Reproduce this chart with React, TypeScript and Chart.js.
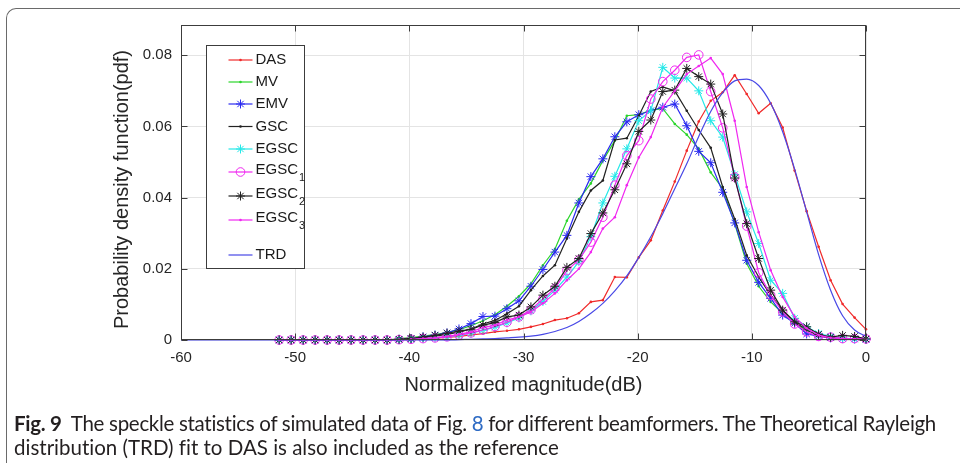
import React, { useEffect, useRef } from 'react';
import { Chart, registerables } from 'chart.js';

Chart.register(...registerables);

// ---------- data ----------
const dBBins = [
  -51.4, -50.35, -49.3, -48.25, -47.2, -46.15, -45.1, -44.05, -43.0, -41.95,
  -40.9, -39.85, -38.8, -37.75, -36.7, -35.65, -34.6, -33.55, -32.5, -31.45,
  -30.4, -29.35, -28.3, -27.25, -26.2, -25.15, -24.1, -23.05, -22.0, -20.95,
  -19.9, -18.85, -17.8, -16.75, -15.7, -14.65, -13.6, -12.55, -11.5, -10.45,
  -9.4, -8.35, -7.3, -6.25, -5.2, -4.15, -3.1, -2.05, -1.0, 0.0,
];

const DAS = [
  0, 0, 0, 0, 0, 0, 0, 0, 0, 0,
  0.0001, 0.0002, 0.0003, 0.0005, 0.0007, 0.0010, 0.0014, 0.0018, 0.0023, 0.0026,
  0.0030, 0.0037, 0.0045, 0.0056, 0.0061, 0.0075, 0.0107, 0.0112, 0.0177, 0.0176,
  0.0232, 0.0280, 0.0364, 0.0445, 0.0532, 0.0614, 0.0672, 0.0696, 0.0744, 0.0691,
  0.0637, 0.0665, 0.0597, 0.0476, 0.0362, 0.0262, 0.0168, 0.0101, 0.0063, 0.0030,
];

const MV = [
  0, 0, 0, 0, 0, 0, 0, 0, 0, 0,
  0.0004, 0.0007, 0.0011, 0.0015, 0.0021, 0.0029, 0.0040, 0.0054, 0.0071, 0.0095,
  0.0123, 0.0158, 0.0210, 0.0255, 0.0335, 0.0395, 0.0440, 0.0504, 0.0560, 0.0630,
  0.0633, 0.0646, 0.0650, 0.0607, 0.0577, 0.0537, 0.0471, 0.0425, 0.0327, 0.0215,
  0.0151, 0.0107, 0.0075, 0.0047, 0.0027, 0.0014, 0.0008, 0.0004, 0.0003, 0.0002,
];

const EMV = [
  0, 0, 0, 0, 0, 0, 0, 0, 0, 0,
  0.0002, 0.0004, 0.0009, 0.0014, 0.0020, 0.0031, 0.0046, 0.0066, 0.0067, 0.0088,
  0.0110, 0.0151, 0.0198, 0.0247, 0.0294, 0.0385, 0.0459, 0.0509, 0.0571, 0.0613,
  0.0633, 0.0644, 0.0654, 0.0663, 0.0602, 0.0530, 0.0498, 0.0415, 0.0329, 0.0224,
  0.0162, 0.0117, 0.0070, 0.0047, 0.0017, 0.0011, 0.0006, 0.0004, 0.0003, 0.0002,
];

const GSC = [
  0, 0, 0, 0, 0, 0, 0, 0, 0, 0,
  0.0002, 0.0004, 0.0007, 0.0011, 0.0016, 0.0022, 0.0031, 0.0045, 0.0055, 0.0074,
  0.0095, 0.0140, 0.0180, 0.0210, 0.0285, 0.0360, 0.0420, 0.0448, 0.0562, 0.0567,
  0.0630, 0.0698, 0.0711, 0.0700, 0.0644, 0.0590, 0.0540, 0.0430, 0.0340, 0.0238,
  0.0177, 0.0126, 0.0084, 0.0051, 0.0028, 0.0012, 0.0006, 0.0004, 0.0003, 0.0002,
];

const EGSC = [
  0, 0, 0, 0, 0, 0, 0, 0, 0, 0,
  0.0001, 0.0002, 0.0004, 0.0006, 0.0009, 0.0013, 0.0019, 0.0027, 0.0036, 0.0048,
  0.0062, 0.0082, 0.0108, 0.0140, 0.0177, 0.0220, 0.0290, 0.0385, 0.0460, 0.0537,
  0.0616, 0.0644, 0.0766, 0.0736, 0.0736, 0.0700, 0.0616, 0.0570, 0.0465, 0.0360,
  0.0271, 0.0168, 0.0131, 0.0061, 0.0037, 0.0018, 0.0010, 0.0005, 0.0003, 0.0002,
];

const EGSC1 = [
  0, 0, 0, 0, 0, 0, 0, 0, 0, 0,
  0.0001, 0.0002, 0.0004, 0.0006, 0.0009, 0.0014, 0.0020, 0.0028, 0.0038, 0.0050,
  0.0065, 0.0085, 0.0115, 0.0145, 0.0195, 0.0225, 0.0275, 0.0345, 0.0435, 0.0518,
  0.0560, 0.0677, 0.0726, 0.0758, 0.0794, 0.0801, 0.0698, 0.0596, 0.0458, 0.0320,
  0.0189, 0.0126, 0.0079, 0.0045, 0.0023, 0.0010, 0.0008, 0.0004, 0.0004, 0.0003,
];

const EGSC2 = [
  0, 0, 0, 0, 0, 0, 0, 0, 0, 0,
  0.0002, 0.0004, 0.0008, 0.0013, 0.0019, 0.0025, 0.0030, 0.0042, 0.0049, 0.0065,
  0.0070, 0.0093, 0.0126, 0.0151, 0.0204, 0.0229, 0.0299, 0.0357, 0.0422, 0.0495,
  0.0586, 0.0618, 0.0698, 0.0702, 0.0763, 0.0740, 0.0719, 0.0635, 0.0455, 0.0327,
  0.0229, 0.0140, 0.0084, 0.0051, 0.0037, 0.0016, 0.0008, 0.0013, 0.0010, 0.0003,
];

const EGSC3 = [
  0, 0, 0, 0, 0, 0, 0, 0, 0, 0,
  0.0001, 0.0002, 0.0004, 0.0006, 0.0010, 0.0016, 0.0023, 0.0035, 0.0042, 0.0056,
  0.0065, 0.0079, 0.0103, 0.0131, 0.0168, 0.0200, 0.0247, 0.0313, 0.0345, 0.0435,
  0.0513, 0.0570, 0.0654, 0.0700, 0.0747, 0.0770, 0.0792, 0.0747, 0.0616, 0.0430,
  0.0303, 0.0196, 0.0121, 0.0065, 0.0033, 0.0014, 0.0006, 0.0004, 0.0003, 0.0002,
];

// theoretical Rayleigh curve: starts at -60 dB, then the same bins
const trdDb = [-60, ...dBBins];
const TRD = [
  0,
  0, 0, 0, 0, 0, 0, 0, 0, 0, 0,
  0, 0, 0, 0, 0, 0.0001, 0.0002, 0.0003, 0.0004, 0.0006,
  0.0008, 0.0011, 0.0016, 0.0024, 0.0035, 0.0052, 0.0075, 0.0103, 0.0138, 0.0180,
  0.0232, 0.0290, 0.0355, 0.0425, 0.0495, 0.0572, 0.0642, 0.0695, 0.0728, 0.0733,
  0.0715, 0.0665, 0.0585, 0.0480, 0.0360, 0.0240, 0.0140, 0.0068, 0.0028, 0.0010,
];

const xTicks = [-60, -50, -40, -30, -20, -10, 0];
const xTickLabels = ['-60', '-50', '-40', '-30', '-20', '-10', '0'];
const yTicks = [0, 0.02, 0.04, 0.06, 0.08];
const yTickLabels = ['0', '0.02', '0.04', '0.06', '0.08'];

const seriesNames = ['DAS', 'MV', 'EMV', 'GSC', 'EGSC', 'EGSC', 'EGSC', 'EGSC', 'TRD'];
const seriesSubs = ['', '', '', '', '', '1', '2', '3', ''];

const xTitle = 'Normalized magnitude(dB)';
const yTitle = 'Probability density function(pdf)';

// ---------- styles ----------
const FONT = '"Liberation Sans", Arial, Helvetica, sans-serif';
type Sty = { color: string; point: string | false; r: number; hollow: boolean };
const styles: Sty[] = [
  { color: '#f02a2a', point: 'circle', r: 1.3, hollow: false },
  { color: '#2ad52a', point: 'circle', r: 1.3, hollow: false },
  { color: '#2a2af0', point: 'star', r: 4.5, hollow: true },
  { color: '#222222', point: 'circle', r: 1.3, hollow: false },
  { color: '#25e8e8', point: 'star', r: 4.5, hollow: true },
  { color: '#f028f0', point: 'circle', r: 4.3, hollow: true },
  { color: '#222222', point: 'star', r: 4.5, hollow: true },
  { color: '#f028f0', point: 'circle', r: 1.3, hollow: false },
  { color: '#4848e6', point: false, r: 0, hollow: false },
];

const seriesValues = [DAS, MV, EMV, GSC, EGSC, EGSC1, EGSC2, EGSC3, TRD];

function drawMarker(ctx: CanvasRenderingContext2D, s: Sty, x: number, y: number) {
  if (!s.point) return;
  ctx.save();
  ctx.strokeStyle = s.color;
  ctx.fillStyle = s.color;
  ctx.lineWidth = 1;
  if (s.point === 'star') {
    const r = s.r;
    ctx.beginPath();
    ctx.moveTo(x - r, y); ctx.lineTo(x + r, y);
    ctx.moveTo(x, y - r); ctx.lineTo(x, y + r);
    const d = r * Math.SQRT1_2;
    ctx.moveTo(x - d, y - d); ctx.lineTo(x + d, y + d);
    ctx.moveTo(x - d, y + d); ctx.lineTo(x + d, y - d);
    ctx.stroke();
  } else {
    ctx.beginPath();
    ctx.arc(x, y, s.r, 0, Math.PI * 2);
    if (s.hollow) ctx.stroke(); else ctx.fill();
  }
  ctx.restore();
}

const framePlugin = {
  id: 'matlabFrame',
  afterDatasetsDraw(chart: any) {
    const { ctx, chartArea: a, scales } = chart;
    ctx.save();
    ctx.strokeStyle = '#3c3c3c';
    ctx.lineWidth = 1;
    const L = Math.round(a.left) + 0.5, R = Math.round(a.right) - 0.5;
    const T = Math.round(a.top) + 0.5, B = Math.round(a.bottom) - 0.5;
    ctx.strokeRect(L, T, R - L, B - T);
    const tl = 6;
    ctx.beginPath();
    xTicks.forEach((v) => {
      const x = Math.round(scales.x.getPixelForValue(v)) + 0.5;
      ctx.moveTo(x, B); ctx.lineTo(x, B - tl);
      ctx.moveTo(x, T); ctx.lineTo(x, T + tl);
    });
    yTicks.forEach((v) => {
      const y = Math.round(scales.y.getPixelForValue(v)) + 0.5;
      ctx.moveTo(L, y); ctx.lineTo(L + tl, y);
      ctx.moveTo(R, y); ctx.lineTo(R - tl, y);
    });
    ctx.stroke();

    // y-axis title (rotated), centred slightly below the axis middle as in the source figure
    ctx.fillStyle = '#262626';
    ctx.font = `20px ${FONT}`;
    ctx.textAlign = 'center';
    ctx.textBaseline = 'middle';
    ctx.translate(a.left - 59, (a.top + a.bottom) / 2 + 7);
    ctx.rotate(-Math.PI / 2);
    ctx.fillText(yTitle, 0, 0);
    ctx.restore();
  },
};

const legendRowsY = [60, 82, 104, 126.5, 149, 172, 196, 220, 255];

const legendPlugin = {
  id: 'boxLegend',
  afterDraw(chart: any) {
    const { ctx, chartArea: a } = chart;
    const bx = Math.round(a.left) + 25.5;
    const by = 45.5;
    const bw = 98;
    const bh = 223;
    ctx.save();
    ctx.fillStyle = '#ffffff';
    ctx.fillRect(bx, by, bw, bh);
    ctx.strokeStyle = '#3c3c3c';
    ctx.lineWidth = 1;
    ctx.strokeRect(bx, by, bw, bh);
    seriesNames.forEach((name, k) => {
      const s = styles[k];
      const y = legendRowsY[k];
      const x0 = bx + 22, x1 = bx + 46;
      ctx.strokeStyle = s.color;
      ctx.lineWidth = 1.2;
      ctx.beginPath();
      ctx.moveTo(x0, y); ctx.lineTo(x1, y);
      ctx.stroke();
      drawMarker(ctx, s, (x0 + x1) / 2, y);
      ctx.fillStyle = '#1a1a1a';
      ctx.textBaseline = 'middle';
      ctx.textAlign = 'left';
      ctx.font = `15px ${FONT}`;
      const sub = seriesSubs[k];
      const ty = sub ? y - 2 : y;
      ctx.fillText(name, x1 + 3, ty);
      if (sub) {
        const w = ctx.measureText(name).width;
        ctx.font = `11px ${FONT}`;
        ctx.fillText(sub, x1 + 3 + w + 1, ty + 8);
      }
    });
    ctx.restore();
  },
};

export default function App() {
  const ref = useRef<HTMLCanvasElement | null>(null);

  useEffect(() => {
    if (!ref.current) return;
    const datasets = seriesValues.map((vals, k) => {
      const s = styles[k];
      const xs = k === 8 ? trdDb : dBBins;
      return {
        label: seriesNames[k] + seriesSubs[k],
        data: vals.map((v, i) => ({ x: xs[i], y: v })),
        borderColor: s.color,
        backgroundColor: s.color,
        borderWidth: 1.2,
        pointStyle: s.point === false ? 'circle' : (s.point as any),
        pointRadius: s.r,
        pointHoverRadius: s.r,
        pointBorderColor: s.color,
        pointBackgroundColor: s.hollow ? 'rgba(0,0,0,0)' : s.color,
        pointBorderWidth: s.point === 'circle' && !s.hollow ? 0 : 1,
        tension: 0,
        cubicInterpolationMode: k === 8 ? ('monotone' as const) : ('default' as const),
        clip: false as any,
        order: 8 - k,
      };
    });

    const chart = new Chart(ref.current, {
      type: 'line',
      data: { datasets },
      options: {
        responsive: false,
        animation: false,
        devicePixelRatio: 1,
        events: [],
        layout: { padding: { left: 105, right: 94, top: 25, bottom: 60 } },
        plugins: { legend: { display: false }, tooltip: { enabled: false } },
        scales: {
          x: {
            type: 'linear',
            min: -60,
            max: 0,
            afterBuildTicks: (s: any) => { s.ticks = xTicks.map((v) => ({ value: v })); },
            afterFit: (s: any) => { s.height = 63; },
            grid: { color: '#e4e4e4', lineWidth: 1, drawTicks: false },
            border: { display: false },
            ticks: {
              autoSkip: false,
              maxRotation: 0,
              padding: 9,
              color: '#262626',
              font: { family: FONT, size: 15 },
              callback: (_v: any, i: number) => xTickLabels[i],
            },
            title: {
              display: true,
              text: xTitle,
              color: '#262626',
              font: { family: FONT, size: 20 },
              padding: { top: 0, bottom: 6 },
            },
          },
          y: {
            type: 'linear',
            min: 0,
            max: 0.0885,
            afterBuildTicks: (s: any) => { s.ticks = yTicks.map((v) => ({ value: v })); },
            afterFit: (s: any) => { s.width = 76; },
            grid: { color: '#e4e4e4', lineWidth: 1, drawTicks: false },
            border: { display: false },
            ticks: {
              padding: 9,
              color: '#262626',
              font: { family: FONT, size: 15 },
              callback: (_v: any, i: number) => yTickLabels[i],
            },
            title: { display: false },
          },
        },
      },
      plugins: [framePlugin, legendPlugin],
    });
    return () => chart.destroy();
  }, []);

  return (
    <div
      style={{
        position: 'fixed',
        left: 0,
        top: 0,
        width: 960,
        height: 463,
        background: '#ffffff',
        overflow: 'hidden',
      }}
    >
      <div
        style={{
          position: 'absolute',
          left: 6,
          top: 8,
          width: 1100,
          height: 1000,
          borderLeft: '1.5px solid #6a6a6a',
          borderTop: '1.5px solid #6a6a6a',
          borderTopLeftRadius: 10,
        }}
      />
      <canvas
        ref={ref}
        width={960}
        height={463}
        style={{ position: 'absolute', left: 0, top: 0, width: 960, height: 463 }}
      />
      <div
        style={{
          position: 'absolute',
          left: 14,
          top: 411,
          fontFamily: 'Lato, "Open Sans", sans-serif',
          fontSize: 20.5,
          lineHeight: '24px',
          color: '#231f20',
          whiteSpace: 'nowrap',
          fontVariantLigatures: 'none',
        }}
      >
        <div style={{ letterSpacing: '-0.3px' }}>
          <b>Fig. 9</b>&nbsp; The speckle statistics of simulated data of Fig.{' '}
          <span style={{ color: '#2e6bc4' }}>8</span> for different beamformers. The Theoretical Rayleigh
        </div>
        <div>distribution (TRD) fit to DAS is also included as the reference</div>
      </div>
    </div>
  );
}
